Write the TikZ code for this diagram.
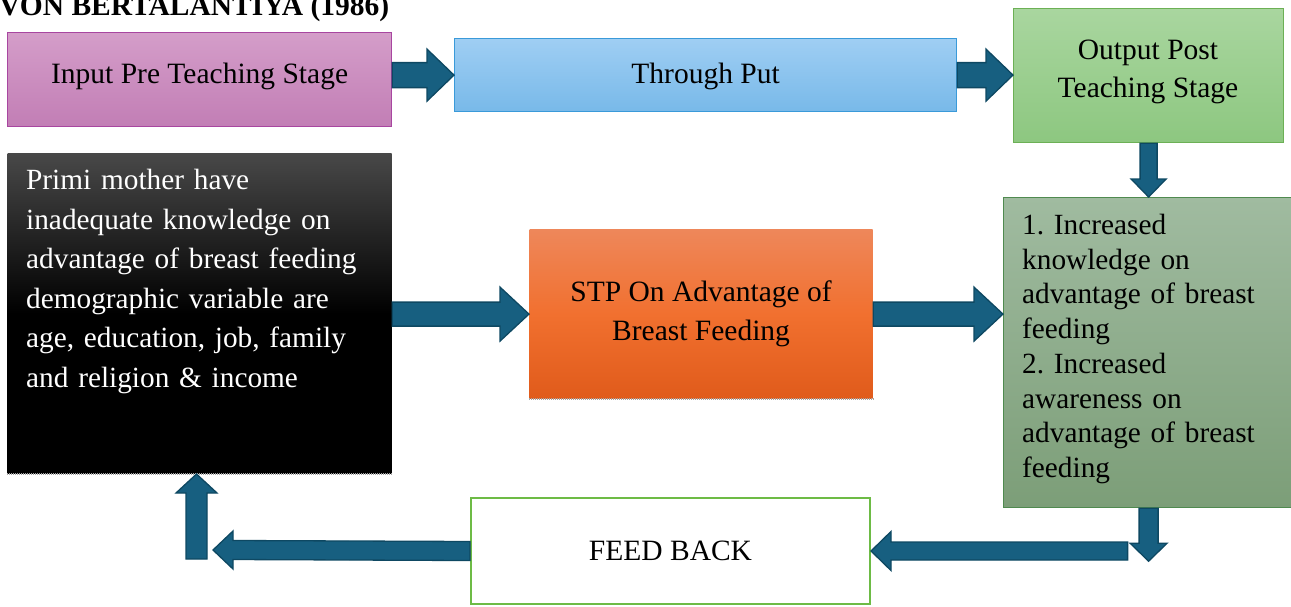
\documentclass[tikz,border=0pt]{standalone}
\usepackage{fontspec}
\setmainfont{Liberation Serif}
\usetikzlibrary{calc}
\definecolor{inptop}{HTML}{D49DC9}\definecolor{inpbot}{HTML}{C27EB5}\definecolor{inpline}{HTML}{A846A0}
\definecolor{thrtop}{HTML}{9FCEF3}\definecolor{thrbot}{HTML}{78B9E9}\definecolor{thrline}{HTML}{3A9AD9}
\definecolor{outtop}{HTML}{A9D69F}\definecolor{outbot}{HTML}{8DC780}\definecolor{outline}{HTML}{6CB055}
\definecolor{lsttop}{HTML}{A0BBA0}\definecolor{lstbot}{HTML}{7C9E78}\definecolor{lstline}{HTML}{4F8A4F}
\definecolor{blktop}{HTML}{484848}
\definecolor{stptop}{HTML}{EE875A}\definecolor{stpmid}{HTML}{F1702F}\definecolor{stpbot}{HTML}{E05B1B}
\definecolor{feedline}{HTML}{6DBB45}
\definecolor{arrowfill}{HTML}{175F80}\definecolor{arrowline}{HTML}{0E4862}
\tikzset{
 box/.style={rectangle, inner sep=0pt, anchor=north west, line width=1.2pt,
   font=\fontsize{29.5}{39}\selectfont, align=center},
 arrowstyle/.style={fill=arrowfill, draw=arrowline, line width=1.3pt, line join=miter},
 dotline/.style={draw=gray!70, line width=2.5pt, dash pattern=on 1pt off 1pt},
 bodytext/.style={anchor=north west, inner sep=0pt, align=left},
}
\newcommand\barrow[7]{%
 \draw[arrowstyle]
 ($(#1)+({-(#5)*(#4)},{(#5)*(#3)})$) --
 ($(#2)+({-(#7)*(#3)-(#5)*(#4)},{-(#7)*(#4)+(#5)*(#3)})$) --
 ($(#2)+({-(#7)*(#3)-(#6)*(#4)},{-(#7)*(#4)+(#6)*(#3)})$) --
 (#2) --
 ($(#2)+({-(#7)*(#3)+(#6)*(#4)},{-(#7)*(#4)-(#6)*(#3)})$) --
 ($(#2)+({-(#7)*(#3)+(#5)*(#4)},{-(#7)*(#4)-(#5)*(#3)})$) --
 ($(#1)+({(#5)*(#4)},{-(#5)*(#3)})$) -- cycle;}
\frenchspacing
\begin{document}
\begin{tikzpicture}[x=1pt,y=-1pt]
\useasboundingbox (0,0) rectangle (1291,606);
% title
\node[anchor=base west, inner sep=0pt, font=\fontsize{29.5}{30}\selectfont\bfseries] (title) at (-1,15) {VON BERTALANTIYA (1986)};
% boxes
\node[box, draw=inpline, top color=inptop, bottom color=inpbot, minimum width=384pt, minimum height=94pt, text height=14pt, text depth=6.5pt] (inp) at (7,32) {Input Pre Teaching Stage};
\node[box, draw=thrline, top color=thrtop, bottom color=thrbot, minimum width=502pt, minimum height=73pt, text height=22.5pt, text depth=6.5pt] (thr) at (454,38) {Through Put};
\node[box, draw=outline, top color=outtop, bottom color=outbot, minimum width=270pt, minimum height=134pt] (out) at (1013,8) {};
\node[anchor=north, inner sep=0pt, align=center, font=\fontsize{29.5}{38}\selectfont] (outtxt) at (1148,39.5) {Output Post\\Teaching Stage};
\node[box, top color=blktop, bottom color=black, middle color=black, minimum width=384pt, minimum height=320pt] (blk) at (7,153) {};
\node[bodytext, text=white, text width=370pt, font=\fontsize{29.3}{39.6}\selectfont] (blktxt) at (26,169) {Primi mother have\\inadequate knowledge on\\advantage of breast feeding\\demographic variable are\\age, education, job, family\\and religion \& income};
\node[box, top color=stptop, bottom color=stpbot, middle color=stpmid, minimum width=343pt, minimum height=169pt] (stp) at (529,229) {STP On Advantage of\\Breast Feeding};
\node[box, draw=lstline, top color=lsttop, bottom color=lstbot, minimum width=300pt, minimum height=310pt] (lst) at (1003,197) {};
\node[bodytext, text width=280pt, font=\fontsize{29.3}{34.7}\selectfont] (lsttxt) at (1022,214) {1. Increased\\knowledge on\\advantage of breast\\feeding\\2. Increased\\awareness on\\advantage of breast\\feeding};
\node[box, draw=feedline, fill=white, line width=2pt, minimum width=399pt, minimum height=106pt] (feed) at (470,497) {FEED BACK};
\draw[dotline] (blk.south west) -- (blk.south east);
\draw[dotline] (stp.south west) -- (stp.south east);
% helper coordinates
\coordinate (a1) at (inp.east |- thr.west);
\coordinate (a2) at (out.west |- thr.east);
\coordinate (a3) at (out.south |- lst.north);
\coordinate (a4) at (blk.east |- stp.west);
\coordinate (a5) at (lst.west |- stp.east);
\coordinate (a6s) at (lst.south -| a3);
\coordinate (a6t) at ($(a6s)+(0,53)$);
\coordinate (a7s) at ($(a6s |- feed.east)+(-21,0)$);
\coordinate (a7t) at (feed.east);
\coordinate (a8t) at (213,550);
\coordinate (a9s) at (196.5,559);
\coordinate (a9t) at (196.5,474);
% arrows
\barrow{a1}{thr.west}{1}{0}{12.5}{26}{27}
\barrow{thr.east}{a2}{1}{0}{12.5}{26}{27}
\barrow{out.south}{a3}{0}{1}{8.5}{17.5}{18}
\barrow{a4}{stp.west}{1}{0}{12}{27}{29}
\barrow{stp.east}{a5}{1}{0}{12}{27}{29}
\barrow{a7s}{a7t}{-1}{0}{9}{19.5}{20}
\barrow{a6s}{a6t}{0}{1}{9.5}{18.5}{18}
\barrow{feed.west}{a8t}{-1}{0}{9.5}{19}{20}
\barrow{a9s}{a9t}{0}{-1}{10.5}{20.5}{19}
\end{tikzpicture}
\end{document}
